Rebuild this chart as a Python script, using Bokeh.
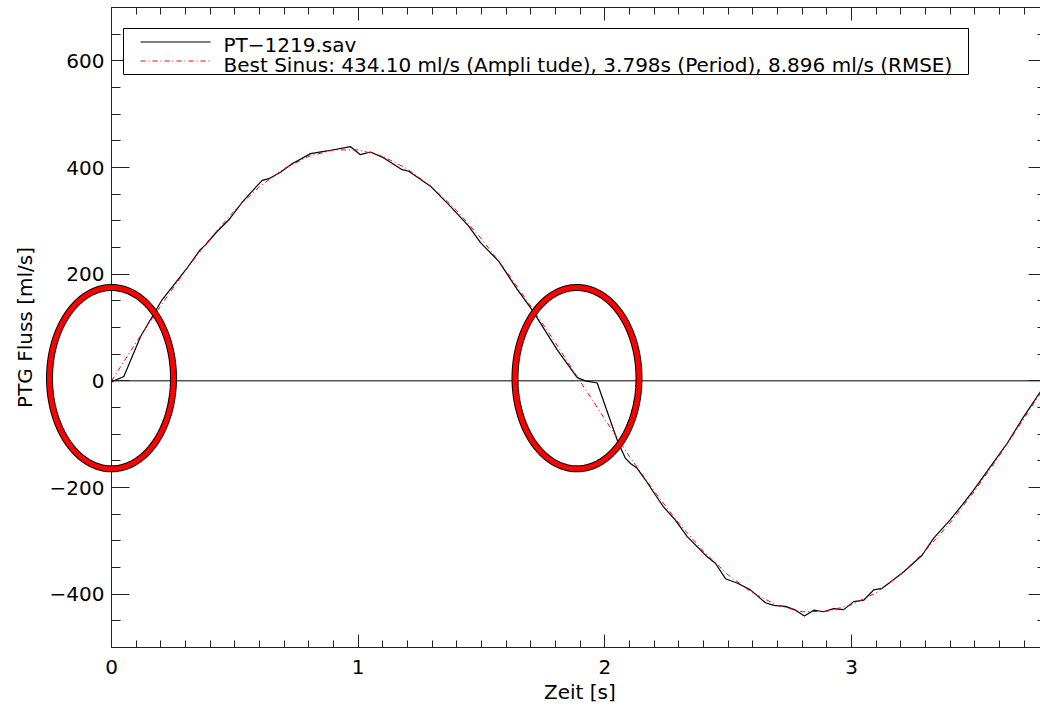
import numpy as np
from bokeh.plotting import figure
from bokeh.models import (LinearAxis, SingleIntervalTicker, BoxAnnotation, CustomLabelingPolicy,
                          Label, Arrow, PolyAnnotation, ColumnDataSource, Title)
from bokeh.embed import file_html
from bokeh.resources import INLINE

# ---------------- data ----------------
t_meas = [0.000, 0.050, 0.118, 0.205, 0.307, 0.360, 0.381, 0.428, 0.476, 0.530,
          0.563, 0.611, 0.638, 0.685, 0.732, 0.807, 0.874, 0.969, 1.009, 1.050,
          1.104, 1.178, 1.205, 1.293, 1.374, 1.448, 1.496, 1.570, 1.644, 1.705,
          1.807, 1.888, 1.921, 1.969, 2.050, 2.083, 2.104, 2.131, 2.165, 2.205,
          2.237, 2.286, 2.334, 2.415, 2.448, 2.489, 2.536, 2.590, 2.651, 2.685,
          2.732, 2.773, 2.809, 2.847, 2.887, 2.928, 2.968, 3.009, 3.050, 3.090,
          3.124, 3.158, 3.212, 3.286, 3.333, 3.399, 3.448, 3.495, 3.563, 3.631,
          3.698, 3.766, 3.798]
flow_meas = [-2, 8, 83, 152, 212, 246, 255, 280, 302, 335,
             352, 376, 379, 391, 407, 426, 431, 439, 424, 429,
             418, 396, 393, 365, 327, 290, 259, 224, 172, 133,
             58, 6, 0, -4, -111, -145, -155, -164, -186, -214,
             -236, -261, -292, -330, -342, -371, -379, -392, -416, -421,
             -423, -430, -441, -430, -433, -427, -429, -414, -411, -392,
             -389, -377, -358, -327, -295, -261, -233, -205, -161, -117,
             -67, -20, 2]

t_fit = [0.0, 0.1, 0.2, 0.3, 0.4, 0.5, 0.6, 0.7, 0.8, 0.9,
         1.0, 1.1, 1.2, 1.3, 1.4, 1.5, 1.6, 1.7, 1.8, 1.9,
         2.0, 2.1, 2.2, 2.3, 2.4, 2.5, 2.6, 2.7, 2.8, 2.9,
         3.0, 3.1, 3.2, 3.3, 3.4, 3.5, 3.6, 3.7, 3.798]
flow_fit = [0, 72, 141, 207, 267, 320, 364, 398, 421, 433,
            433, 421, 397, 363, 319, 266, 206, 140, 71, -1,
            -72, -142, -207, -267, -320, -364, -398, -421, -433, -432,
            -420, -397, -363, -318, -266, -206, -140, -70, 0]

highlight_t = [0.0, 1.887]
highlight_flow = [5, 5]

t_span = [0.0, 3.798]
y_ticks = [-400, -200, 0, 200, 400, 600]
y_tick_labels = ["\u2212400", "\u2212200", "0", "200", "400", "600"]

legend_labels = ["PT\u22121219.sav",
                 "Best Sinus: 434.10 ml/s (Ampli tude), 3.798s (Period), 8.896 ml/s (RMSE)"]
x_title = "Zeit [s]"
y_title = "PTG Fluss [ml/s]"

# ---------------- figure ----------------
FONT = "DejaVu Sans"
FS = "20px"
AX = "#222222"
X0 = 111          # pixel where t = 0 sits
PX_PER_S = 246.68
W = 1040

p = figure(width=W, height=711, output_backend="svg", toolbar_location=None,
           x_range=(-X0 / PX_PER_S, (W - X0) / PX_PER_S), y_range=(-500, 700),
           x_axis_location=None, y_axis_location=None,
           min_border_left=0, min_border_right=0, min_border_top=7, min_border_bottom=64)
p.grid.visible = False
p.outline_line_color = None
p.background_fill_color = "white"
p.border_fill_color = "white"

hide_labels = CustomLabelingPolicy(code="return []")


def style(ax, tin, tmin, labels=True):
    ax.axis_line_color = AX
    ax.major_tick_line_color = AX
    ax.minor_tick_line_color = AX
    ax.major_tick_in = tin
    ax.major_tick_out = 0
    ax.minor_tick_in = tmin
    ax.minor_tick_out = 0
    ax.major_label_text_font = FONT
    ax.axis_label_text_font = FONT
    ax.axis_label_text_font_style = "normal"
    ax.axis_label_text_font_size = FS
    ax.major_label_text_color = "black"
    ax.axis_label_text_color = "black"
    if labels:
        ax.major_label_text_font_size = FS
    else:
        ax.major_label_policy = hide_labels
        ax.major_label_text_font_size = "0px"
        ax.major_label_standoff = 0


bottom = LinearAxis(ticker=SingleIntervalTicker(interval=1, num_minor_ticks=10),
                    bounds=(t_span[0], t_span[1]))
style(bottom, 13, 7)
bottom.major_label_standoff = 12
p.add_layout(bottom, "below")

# x-axis title centred on the plotted time span (left-aligned title shifted by an offset)
centre_px = X0 + (t_span[0] + t_span[1]) / 2 * PX_PER_S
title_w = 72  # approx. rendered width of the title text at 20px
p.add_layout(Title(text=x_title, align="left", offset=centre_px - title_w / 2, standoff=3,
                   text_font=FONT, text_font_size=FS, text_font_style="normal",
                   text_color="black"), "below")

top = LinearAxis(ticker=SingleIntervalTicker(interval=1, num_minor_ticks=10),
                 bounds=(t_span[0], t_span[1]))
style(top, 13, 7, labels=False)
p.add_layout(top, "above")

yover = {v: s for v, s in zip(y_ticks, y_tick_labels)}
left = LinearAxis(ticker=SingleIntervalTicker(interval=200, num_minor_ticks=4), axis_label=y_title,
                  major_label_overrides=yover, fixed_location=t_span[0])
style(left, 18, 9)
left.major_label_standoff = 7
left.axis_label_standoff = 10
p.add_layout(left, "left")

right = LinearAxis(ticker=SingleIntervalTicker(interval=200, num_minor_ticks=4))
style(right, 12, 3, labels=False)
right.axis_line_color = None
p.add_layout(right, "right")

# zero line across the measured time span
p.line(x=t_span, y=[0, 0], line_color="black", line_width=1)

# curves
meas = ColumnDataSource(dict(t=t_meas, v=flow_meas))
fit = ColumnDataSource(dict(t=t_fit, v=flow_fit))
p.line("t", "v", source=meas, line_color="black", line_width=1.2)
p.line("t", "v", source=fit, line_color="#ff0000", line_width=1, line_dash="5 3 1 3")

# highlight ellipses
theta = np.linspace(0, 2 * np.pi, 240)
for cx, cy in zip(highlight_t, highlight_flow):
    xs = list(cx + 0.2513 * np.cos(theta))
    ys = list(cy + 170.0 * np.sin(theta))
    p.add_layout(PolyAnnotation(xs=xs, ys=ys, fill_alpha=0, line_color="black",
                                line_alpha=1, line_width=7))
    p.add_layout(PolyAnnotation(xs=xs, ys=ys, fill_alpha=0, line_color="#ff0000",
                                line_alpha=1, line_width=5))

# legend (screen units from frame's bottom-left)
p.add_layout(BoxAnnotation(left=X0 + 12, right=X0 + 857, bottom=573, top=619,
                           left_units="screen", right_units="screen",
                           bottom_units="screen", top_units="screen",
                           fill_color="white", fill_alpha=1, line_color="black", line_alpha=1,
                           line_width=1))
p.add_layout(Arrow(x_start=X0 + 29, y_start=605.5, x_end=X0 + 99, y_end=605.5, start=None, end=None,
                   start_units="screen", end_units="screen", line_color="black", line_width=1))
p.add_layout(Arrow(x_start=X0 + 29, y_start=586.5, x_end=X0 + 99, y_end=586.5, start=None, end=None,
                   start_units="screen", end_units="screen", line_color="#ff0000", line_width=1,
                   line_dash="5 3 1 3"))
for lab, yb in zip(legend_labels, [603, 583]):
    p.add_layout(Label(x=X0 + 112, y=yb, x_units="screen", y_units="screen", text=lab,
                       text_font=FONT, text_font_size=FS, text_color="black",
                       text_baseline="alphabetic", text_align="left"))

open("out.html", "w").write(file_html(p, INLINE))
